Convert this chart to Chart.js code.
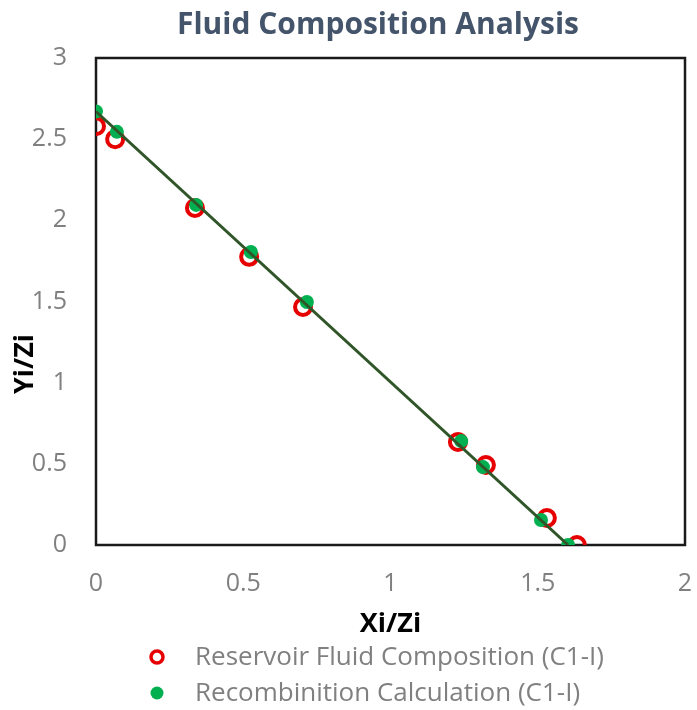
<!DOCTYPE html>
<html>
<head>
<meta charset="utf-8">
<script src="https://cdn.jsdelivr.net/npm/chart.js@4.4.0/dist/chart.umd.min.js"></script>
<style>
  html, body { margin: 0; padding: 0; background: #fff; }
  #wrap { width: 697px; height: 710px; }
</style>
</head>
<body>
<div id="wrap"><canvas id="GraficoFluido" width="697" height="710"></canvas></div>
<script>
const chartTitle = "Fluid Composition Analysis";
const xTitle = "Xi/Zi";
const yTitle = "Yi/Zi";
const reservoirLabel = "Reservoir Fluid Composition (C1-I)";
const recombLabel = "Recombinition Calculation (C1-I)";

const reservoirX = [0, 0.065, 0.336, 0.52, 0.703, 1.229, 1.324, 1.531, 1.633];
const reservoirY = [2.58, 2.50, 2.076, 1.775, 1.466, 0.635, 0.493, 0.166, 0.0];
const recombX = [0, 0.071, 0.34, 0.526, 0.716, 1.24, 1.314, 1.511, 1.603];
const recombY = [2.67, 2.545, 2.095, 1.805, 1.497, 0.64, 0.48, 0.154, 0.0];
const trendX = [0, 1.603];
const trendY = [2.67, 0.0];

const xTicks = [0, 0.5, 1, 1.5, 2];
const yTicks = [0, 0.5, 1, 1.5, 2, 2.5, 3];

function pares(xs, ys) {
    return xs.map(function (x, i) { return { x: x, y: ys[i] }; });
}

const FONTE = "'Open Sans', 'Noto Sans', sans-serif";

// titulo, titulo do eixo Y, moldura e legenda desenhados a mao
const extras = {
    id: 'extras',
    beforeDatasetsDraw: function (chart) {
        const ctx = chart.ctx, a = chart.chartArea;
        ctx.save();
        ctx.strokeStyle = '#1a1a1a';
        ctx.lineWidth = 2.5;
        ctx.strokeRect(a.left, a.top, a.right - a.left, a.bottom - a.top);
        ctx.restore();
    },
    afterDraw: function (chart) {
        const ctx = chart.ctx;
        ctx.save();
        ctx.textBaseline = 'middle';

        ctx.fillStyle = '#44546a';
        ctx.font = "bold 30px " + FONTE;
        ctx.textAlign = 'center';
        ctx.fillText(chartTitle, 378, 25);

        ctx.save();
        ctx.translate(25, 364);
        ctx.rotate(-Math.PI / 2);
        ctx.fillStyle = '#000';
        ctx.font = "bold 27px " + FONTE;
        ctx.fillText(yTitle, 0, 0);
        ctx.restore();

        // legenda
        ctx.textAlign = 'left';
        ctx.font = "26px " + FONTE;
        ctx.beginPath();
        ctx.arc(157, 657, 6, 0, Math.PI * 2);
        ctx.strokeStyle = '#e60000';
        ctx.lineWidth = 3.5;
        ctx.stroke();
        ctx.fillStyle = '#808080';
        ctx.fillText(reservoirLabel, 195, 658);

        ctx.beginPath();
        ctx.arc(157, 693, 6.5, 0, Math.PI * 2);
        ctx.fillStyle = '#00b050';
        ctx.fill();
        ctx.fillStyle = '#808080';
        ctx.fillText(recombLabel, 195, 694);
        ctx.restore();
    }
};

new Chart(document.getElementById("GraficoFluido"), {
    type: 'scatter',
    data: {
        datasets: [{
            label: reservoirLabel,
            data: pares(reservoirX, reservoirY),
            pointStyle: 'circle',
            pointRadius: 8,
            pointBorderWidth: 4,
            borderColor: '#e60000',
            backgroundColor: 'rgba(0,0,0,0)',
            order: 3
        }, {
            label: recombLabel,
            data: pares(recombX, recombY),
            pointRadius: 7,
            pointBorderWidth: 0,
            borderColor: '#00b050',
            backgroundColor: '#00b050',
            order: 2
        }, {
            label: 'trend',
            data: pares(trendX, trendY),
            showLine: true,
            pointRadius: 0,
            borderColor: '#2f5528',
            borderWidth: 3,
            fill: false,
            order: 1
        }]
    },
    options: {
        responsive: false,
        animation: false,
        layout: { padding: { top: 58, right: 12, left: 0, bottom: 0 } },
        plugins: {
            legend: { display: false },
            title: { display: false },
            tooltip: { enabled: false }
        },
        scales: {
            x: {
                type: 'linear',
                min: 0,
                max: 2,
                afterBuildTicks: function (s) { s.ticks = xTicks.map(function (v) { return { value: v }; }); },
                afterFit: function (s) { s.height = 165; s.paddingLeft = 0; s.paddingRight = 0; },
                grid: { display: false, drawTicks: false },
                border: { display: false },
                ticks: {
                    padding: 24,
                    color: '#808080',
                    font: { family: FONTE, size: 25 },
                    callback: function (v) { return String(v); }
                },
                title: {
                    display: true,
                    text: xTitle,
                    color: '#000',
                    font: { family: FONTE, size: 27, weight: 'bold' },
                    padding: { top: 10, bottom: 69 }
                }
            },
            y: {
                type: 'linear',
                min: 0,
                max: 3,
                afterBuildTicks: function (s) { s.ticks = yTicks.map(function (v) { return { value: v }; }); },
                afterFit: function (s) { s.width = 96; s.paddingTop = 0; s.paddingBottom = 0; },
                grid: { display: false, drawTicks: false },
                border: { display: false },
                ticks: {
                    padding: 29,
                    color: '#808080',
                    font: { family: FONTE, size: 25 },
                    callback: function (v) { return String(v); }
                }
            }
        }
    },
    plugins: [extras]
});
</script>
</body>
</html>
